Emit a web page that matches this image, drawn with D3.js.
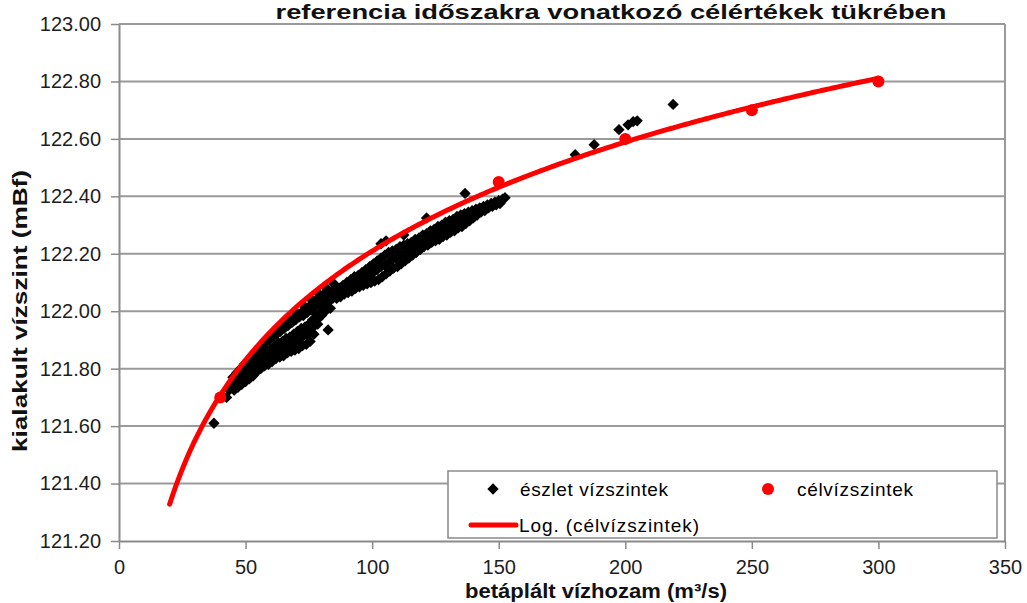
<!DOCTYPE html>
<html>
<head>
<meta charset="utf-8">
<script src="https://cdn.jsdelivr.net/npm/d3@7"></script>
<style>
  body { margin: 0; background: #fff; }
  svg { font-family: "Liberation Sans", Arial, sans-serif; }
</style>
</head>
<body>
<div id="chart"></div>
<script>

// célvízszintek (target levels)
var qTarget = [40, 150, 200, 250, 300];
var hTarget = [121.70, 122.45, 122.60, 122.70, 122.80];

// trendline range (Excel trendline drawn from 20 to 300)
var trendFrom = 20;
var trendTo = 300;

// észlet vízszintek: [vízhozam, vízszint]
var observed = [
  [37.5,121.61],[42.5,121.70],[43.5,121.725],
  [45.0,121.77],[45.0,121.745],[45.5,121.725],
  [45.8,121.76],[45.8,121.735],
  [46.5,121.785],[46.5,121.755],[47,121.735],
  [47.3,121.79],[47.3,121.75],
  [48,121.80],[48,121.77],[48.5,121.745],
  [48.8,121.805],[48.8,121.765],
  [49.5,121.815],[49.5,121.785],[50,121.755],
  [50.3,121.82],[50.3,121.78],
  [51,121.83],[51,121.80],[51.5,121.765],
  [51.8,121.835],[51.8,121.79],
  [52.5,121.845],[52.5,121.81],[53,121.775],
  [53.3,121.85],[53.3,121.80],
  [54,121.86],[54,121.825],[54.5,121.79],
  [54.8,121.865],[54.8,121.815],
  [55.5,121.875],[55.5,121.84],[56,121.80],
  [56.3,121.875],[56.3,121.825],
  [57,121.885],[57,121.85],[57.5,121.81],
  [57.8,121.89],[57.8,121.835],
  [58.5,121.90],[58.5,121.86],[59,121.815],
  [59.3,121.90],[59.3,121.845],
  [60,121.91],[60,121.87],[60.5,121.825],
  [60.8,121.91],[60.8,121.85],[61,121.925],
  [61.5,121.925],[61.5,121.88],[62,121.835],
  [62.3,121.92],[62.3,121.86],
  [63,121.935],[63,121.89],[63.5,121.84],
  [63.8,121.93],[63.8,121.87],[64,121.95],
  [64.5,121.945],[64.5,121.895],[65,121.845],
  [65.3,121.94],[65.3,121.875],
  [66,121.955],[66,121.905],[66.5,121.855],
  [66.8,121.95],[66.8,121.885],[67,121.972],
  [67.5,121.965],[67.5,121.91],[68,121.86],
  [68.3,121.96],[68.3,121.89],
  [69,121.975],[69,121.92],[69.5,121.865],
  [69.8,121.97],[69.8,121.895],[70,121.995],
  [70.5,121.985],[70.5,121.93],[71,121.87],
  [71.3,121.98],[71.3,121.905],
  [72,121.995],[72,121.94],[72.5,121.88],
  [72.8,121.985],[72.8,121.915],[73,122.02],
  [73.5,122.005],[73.5,121.945],[74,121.885],
  [74.3,121.995],[74.3,121.92],
  [75,122.015],[75,121.955],[75.5,121.895],
  [75.8,122.005],[75.8,121.93],[76,122.04],
  [76.5,122.025],[76.5,121.97],[77,121.92],
  [77.3,122.02],[77.3,121.95],
  [78,122.04],[78,121.99],[78.5,121.955],
  [78.8,122.035],[78.8,121.975],[79,122.06],
  [79.5,122.05],[79.5,122.015],[80,121.985],
  [80.3,122.045],[80.3,122.00],
  [81,122.06],[81,122.025],[81.5,122.00],
  [81.8,122.05],[81.8,122.01],[82,122.08],
  [82.5,122.065],[83,122.035],[83.5,122.01],[82.6,121.935],
  [83.3,122.05],
  [84,122.07],[84.5,122.045],[84.8,122.058],[85,122.095],
  [85.5,122.075],[86,122.045],[86.3,122.062],
  [87,122.08],[87.5,122.05],[87.8,122.068],
  [88.5,122.09],[89,122.06],[89.3,122.075],
  [90,122.10],[90.5,122.065],[90.8,122.085],
  [91.5,122.11],[92,122.07],[92.3,122.09],
  [93,122.12],[93.5,122.08],[93.8,122.10],
  [94.5,122.125],[95,122.085],[95.3,122.105],
  [96,122.135],[96.5,122.09],[96.8,122.115],
  [97.5,122.145],[98,122.095],[98.3,122.12],
  [99,122.155],[99.5,122.10],[99,122.125],
  [100.5,122.165],[101,122.105],[100.5,122.135],
  [102,122.175],[102.5,122.11],[102,122.145],
  [103.5,122.185],[104,122.12],[103.5,122.155],[103.5,122.235],
  [105,122.195],[105.5,122.13],[105,122.16],[105.5,122.245],
  [106.5,122.205],[107,122.14],[106.5,122.17],
  [108,122.21],[108.5,122.15],[108,122.18],
  [109.5,122.215],[110,122.155],[109.5,122.185],
  [111,122.225],[111.5,122.165],[111,122.195],
  [112.5,122.23],[113,122.175],[112.5,122.20],[112.5,122.265],
  [114,122.235],[114.5,122.185],[114,122.21],
  [115.5,122.24],[116,122.195],[115.5,122.215],
  [117,122.25],[117.5,122.205],[117,122.225],
  [118.5,122.255],[119,122.215],[118.5,122.235],
  [120,122.265],[120.5,122.225],[120,122.245],
  [121.5,122.27],[122,122.23],[121.5,122.25],[121.5,122.325],
  [123,122.28],[123.5,122.24],[123,122.26],
  [124.5,122.285],[125,122.245],[124.5,122.265],
  [126,122.295],[126.5,122.25],[126,122.27],
  [127.5,122.30],[128,122.26],[127.5,122.28],
  [129,122.31],[129.5,122.265],[129,122.285],
  [130.5,122.315],[131,122.275],[130.5,122.295],
  [132,122.32],[132.5,122.28],[132,122.30],
  [133.5,122.33],[134,122.29],[133.5,122.31],
  [135,122.335],[135.5,122.295],[135,122.315],
  [136.5,122.34],[137,122.305],[136.5,122.32],[136.7,122.41],
  [138,122.345],[138.5,122.315],[138,122.33],
  [139.5,122.35],[140,122.325],[139.5,122.335],
  [141,122.355],[141.5,122.335],
  [142.5,122.36],[143,122.345],
  [144,122.365],[144.5,122.35],
  [145.5,122.37],[146,122.36],
  [147,122.375],[147.5,122.365],
  [148.5,122.38],[149,122.37],
  [150,122.385],[150.5,122.375],
  [151.5,122.39],[152.5,122.395],
  [180.2,122.545],[187.7,122.58],[197.5,122.632],[201.1,122.649],
  [203.1,122.66],[204.7,122.663],[218.9,122.72]
];

var xTicks = [0, 50, 100, 150, 200, 250, 300, 350];
var yTicks = [121.2, 121.4, 121.6, 121.8, 122.0, 122.2, 122.4, 122.6, 122.8, 123.0];

var titleText = 'referencia időszakra vonatkozó célértékek tükrében';
var xTitle = 'betáplált vízhozam (m³/s)';
var yTitle = 'kialakult vízszint (mBf)';
var legendObs = 'észlet vízszintek';
var legendTarget = 'célvízszintek';
var legendTrend = 'Log. (célvízszintek)';


var chart_width  = 1027;
var chart_height = 603;
var left   = 119;
var right  = 1005;
var top_y  = 24;
var bottom = 541;

var svg = d3.select('#chart')
  .append('svg')
  .attr('width', chart_width)
  .attr('height', chart_height);

var x_scale = d3.scaleLinear()
  .domain([0, 350])
  .range([left, right]);

var y_scale = d3.scaleLinear()
  .domain([121.2, 123.0])
  .range([bottom, top_y]);

// gridlines
svg.append('g')
  .selectAll('line')
  .data(yTicks.slice(1))
  .enter()
  .append('line')
  .attr('x1', left)
  .attr('x2', right)
  .attr('y1', function(d){ return y_scale(d); })
  .attr('y2', function(d){ return y_scale(d); })
  .attr('stroke', '#9a9a9a')
  .attr('stroke-width', 2);

// right border of plot area
svg.append('line')
  .attr('x1', right).attr('x2', right)
  .attr('y1', top_y).attr('y2', bottom)
  .attr('stroke', '#9a9a9a')
  .attr('stroke-width', 2);

// axes
var x_axis = d3.axisBottom(x_scale)
  .tickValues(xTicks)
  .tickSize(8)
  .tickSizeOuter(0)
  .tickPadding(11)
  .tickFormat(d3.format('d'));

var gx = svg.append('g')
  .attr('class', 'x-axis')
  .attr('transform', 'translate(0,' + bottom + ')')
  .call(x_axis);

var y_axis = d3.axisLeft(y_scale)
  .tickValues(yTicks)
  .tickSize(8)
  .tickSizeOuter(0)
  .tickPadding(10)
  .tickFormat(d3.format('.2f'));

var gy = svg.append('g')
  .attr('class', 'y-axis')
  .attr('transform', 'translate(' + left + ',0)')
  .call(y_axis);

[gx, gy].forEach(function(g){
  g.select('.domain').attr('stroke', '#8a8a8a').attr('stroke-width', 2);
  g.selectAll('.tick line').attr('stroke', '#8a8a8a').attr('stroke-width', 1.5);
  g.selectAll('.tick text')
    .attr('fill', '#1e1e1e')
    .style('font-size', '20px')
    .style('font-family', '"Liberation Sans", Arial, sans-serif');
});

// observed points (diamonds)
var diamond = d3.symbol().type(d3.symbolSquare).size(64);

svg.append('g')
  .selectAll('path')
  .data(observed)
  .enter()
  .append('path')
  .attr('d', diamond)
  .attr('transform', function(d){
    return 'translate(' + x_scale(d[0]) + ',' + y_scale(d[1]) + ') rotate(45)';
  })
  .attr('fill', '#000');

// target points
svg.append('g')
  .selectAll('circle')
  .data(qTarget)
  .enter()
  .append('circle')
  .attr('cx', function(d){ return x_scale(d); })
  .attr('cy', function(d, i){ return y_scale(hTarget[i]); })
  .attr('r', 6)
  .attr('fill', '#ff0000');

// logarithmic trendline fitted on the target points
var lx = qTarget.map(function(d){ return Math.log(d); });
var mx = d3.mean(lx);
var my = d3.mean(hTarget);
var sxy = 0, sxx = 0;
for (var i = 0; i < lx.length; i++) {
  sxy += (lx[i] - mx) * (hTarget[i] - my);
  sxx += (lx[i] - mx) * (lx[i] - mx);
}
var slope = sxy / sxx;
var icpt = my - slope * mx;

var trendPts = d3.range(trendFrom, trendTo + 0.1, 1);

var line = d3.line()
  .x(function(d){ return x_scale(d); })
  .y(function(d){ return y_scale(icpt + slope * Math.log(d)); })
  .curve(d3.curveMonotoneX);

svg.append('path')
  .datum(trendPts)
  .attr('d', line)
  .attr('fill', 'none')
  .attr('stroke', '#ff0000')
  .attr('stroke-width', 5)
  .attr('stroke-linecap', 'round');

// legend
var lg = svg.append('g');

lg.append('rect')
  .attr('x', 448).attr('y', 471)
  .attr('width', 549).attr('height', 67)
  .attr('fill', '#fff')
  .attr('stroke', '#8a8a8a')
  .attr('stroke-width', 1.5);

lg.append('path')
  .attr('d', diamond)
  .attr('transform', 'translate(493,489) rotate(45)')
  .attr('fill', '#000');

lg.append('text')
  .attr('x', 520).attr('y', 496)
  .attr('textLength', 148)
  .style('font-size', '19px')
  .text(legendObs);

lg.append('circle')
  .attr('cx', 768).attr('cy', 489)
  .attr('r', 6)
  .attr('fill', '#ff0000');

lg.append('text')
  .attr('x', 797).attr('y', 496)
  .attr('textLength', 116)
  .style('font-size', '19px')
  .text(legendTarget);

lg.append('line')
  .attr('x1', 471).attr('x2', 516)
  .attr('y1', 525).attr('y2', 525)
  .attr('stroke', '#ff0000')
  .attr('stroke-width', 5)
  .attr('stroke-linecap', 'round');

lg.append('text')
  .attr('x', 519).attr('y', 532)
  .attr('textLength', 180)
  .style('font-size', '19px')
  .text(legendTrend);

// titles
svg.append('text')
  .attr('x', 611).attr('y', 19)
  .attr('text-anchor', 'middle')
  .attr('textLength', 671)
  .attr('lengthAdjust', 'spacingAndGlyphs')
  .style('font-size', '21px')
  .style('font-weight', 'bold')
  .attr('fill', '#111')
  .text(titleText);

svg.append('text')
  .attr('x', 596).attr('y', 598)
  .attr('text-anchor', 'middle')
  .attr('textLength', 262)
  .attr('lengthAdjust', 'spacingAndGlyphs')
  .style('font-size', '20px')
  .style('font-weight', 'bold')
  .attr('fill', '#111')
  .text(xTitle);

svg.append('text')
  .attr('transform', 'translate(27,311) rotate(-90)')
  .attr('text-anchor', 'middle')
  .attr('textLength', 282)
  .attr('lengthAdjust', 'spacingAndGlyphs')
  .style('font-size', '20px')
  .style('font-weight', 'bold')
  .attr('fill', '#111')
  .text(yTitle);

</script>
</body>
</html>
